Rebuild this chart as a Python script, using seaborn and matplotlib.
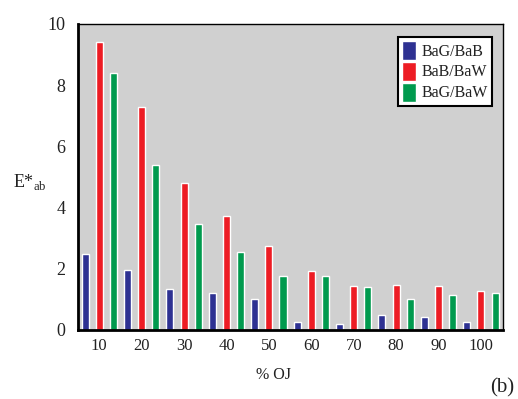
import matplotlib
matplotlib.use("Agg")
import matplotlib.pyplot as plt
import seaborn as sns
import pandas as pd

categories = ["10", "20", "30", "40", "50", "60", "70", "80", "90", "100"]
series_names = ["BaG/BaB", "BaB/BaW", "BaG/BaW"]
bag_bab = [2.49, 1.96, 1.35, 1.21, 1.02, 0.27, 0.20, 0.49, 0.42, 0.25]
bab_baw = [9.41, 7.28, 4.80, 3.73, 2.73, 1.94, 1.44, 1.48, 1.43, 1.28]
bag_baw = [8.39, 5.38, 3.46, 2.56, 1.77, 1.75, 1.39, 1.00, 1.15, 1.20]
colors = ["#2e3192", "#ed1c24", "#009a4e"]

rows = []
for name, vals in zip(series_names, [bag_bab, bab_baw, bag_baw]):
    for c, v in zip(categories, vals):
        rows.append({"OJ": c, "E": v, "series": name})
df = pd.DataFrame(rows)

sns.set_style("white")
plt.rcParams["font.family"] = ["Liberation Serif", "DejaVu Serif"]

fig = plt.figure(figsize=(5.18, 3.99), dpi=100)
ax = fig.add_axes([0.1506, 0.173, 0.8204, 0.767])
sns.barplot(data=df, x="OJ", y="E", hue="series", order=categories,
            hue_order=series_names, palette=colors, width=1.0, gap=0.5,
            saturation=1, ax=ax, errorbar=None)
ax.set_facecolor("#d0d0d0")
ax.set_ylim(0, 10)
ax.set_xlim(-0.5, 9.52)
ax.set_yticks([0, 2, 4, 6, 8, 10])
ax.tick_params(axis="y", length=0, labelsize=13, pad=9, colors="#222222")
ax.tick_params(axis="x", direction="in", length=3, width=1.2, labelsize=12,
               pad=6, color="black", labelcolor="#222222")
ax.set_xlabel("% OJ", fontsize=11.5, color="#222222")
ax.xaxis.set_label_coords(0.46, -0.12)
ax.set_ylabel("E*$_{\\mathregular{ab}}$", fontsize=13, rotation=0,
              color="#222222", va="center", ha="left")
ax.yaxis.set_label_coords(-0.152, 0.485)
for s in ["left", "bottom"]:
    ax.spines[s].set_linewidth(2.0)
    ax.spines[s].set_color("black")
for s in ["top", "right"]:
    ax.spines[s].set_linewidth(1.0)
    ax.spines[s].set_color("black")

leg = ax.legend(loc="upper right", bbox_to_anchor=(0.973, 0.958), fontsize=11.5,
                frameon=True, fancybox=False, framealpha=1, edgecolor="black",
                handlelength=0.85, handleheight=1.45, handletextpad=0.35,
                borderpad=0.25, labelspacing=0.12, borderaxespad=0)
leg.get_frame().set_linewidth(1.5)
for t in leg.get_texts():
    t.set_color("#222222")

fig.text(0.992, 0.003, "(b)", fontsize=15, ha="right", va="bottom", color="#222222")
fig.savefig("out.png", dpi=100)
